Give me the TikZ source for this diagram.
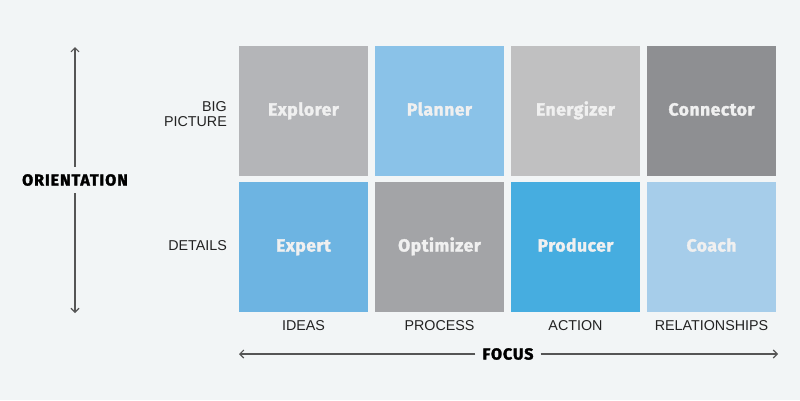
\documentclass[tikz,border=0pt]{standalone}
\usepackage{fontspec}
\setmainfont{Liberation Sans}
\newfontfamily\heavyfont{Fira Sans Bold}[FakeBold=1.8, LetterSpace=3]
\newfontfamily\titlefont{Fira Sans Bold}[FakeBold=2, LetterSpace=6]
\usetikzlibrary{arrows.meta}
\definecolor{bg}{HTML}{F2F5F6}
\definecolor{cExplorer}{HTML}{B4B5B8}
\definecolor{cPlanner}{HTML}{8AC2E8}
\definecolor{cEnergizer}{HTML}{C0C0C1}
\definecolor{cConnector}{HTML}{8E8F92}
\definecolor{cExpert}{HTML}{6DB4E2}
\definecolor{cOptimizer}{HTML}{A3A4A7}
\definecolor{cProducer}{HTML}{46ADE0}
\definecolor{cCoach}{HTML}{A6CDEA}
\definecolor{labeltext}{HTML}{222222}
\definecolor{arrowcol}{HTML}{555555}
\tikzset{
  cell/.style={minimum width=129pt, minimum height=130pt, inner sep=0pt, text height=12pt, text depth=3pt, text=white!94!black, font=\heavyfont\fontsize{17.5}{19}\selectfont},
  axlabel/.style={text=labeltext, font=\fontsize{14.3}{16}\selectfont, inner sep=0pt},
  axtitle/.style={text=black, font=\titlefont\fontsize{16}{18}\selectfont, inner sep=2pt},
  axarrow/.style={draw=arrowcol, line width=1.1pt, -{Straight Barb[length=4pt,width=8pt]}},
}
\begin{document}
\begin{tikzpicture}[x=1pt,y=-1pt]
\fill[bg] (0,0) rectangle (800,400);
\useasboundingbox (0,0) rectangle (800,400);
% row 1
\node[cell, fill=cExplorer] (explorer) at (303.5,111) {Explorer};
\node[cell, fill=cPlanner] (planner) at (439.5,111) {Planner};
\node[cell, fill=cEnergizer] (energizer) at (575.5,111) {Energizer};
\node[cell, fill=cConnector] (connector) at (711.5,111) {Connector};
% row 2
\node[cell, fill=cExpert] (expert) at (303.5,247) {Expert};
\node[cell, fill=cOptimizer] (optimizer) at (439.5,247) {Optimizer};
\node[cell, fill=cProducer] (producer) at (575.5,247) {Producer};
\node[cell, fill=cCoach] (coach) at (711.5,247) {Coach};
% row labels
\node[axlabel, anchor=east, align=right] (big) at (227,114) {BIG\\[-1pt]PICTURE};
\node[axlabel, anchor=east] (details) at (227,246) {DETAILS};
% column labels
\node[axlabel] (ideas) at (303.5,326) {IDEAS};
\node[axlabel] (process) at (439.5,326) {PROCESS};
\node[axlabel] (action) at (575.5,326) {ACTION};
\node[axlabel] (relationships) at (711.5,326) {RELATIONSHIPS};
% orientation axis
\node[axtitle, inner sep=7pt] (orient) at (75,180) {ORIENTATION};
\coordinate (otop) at (75,47);
\coordinate (obot) at (75,313);
\draw[axarrow] (orient.north) -- (otop);
\draw[axarrow] (orient.south) -- (obot);
% focus axis
\node[axtitle, inner sep=7pt] (focus) at (508,354) {FOCUS};
\coordinate (fleft) at (239,354);
\coordinate (fright) at (778,354);
\draw[axarrow] (focus.west) -- (fleft);
\draw[axarrow] (focus.east) -- (fright);
\end{tikzpicture}
\end{document}
